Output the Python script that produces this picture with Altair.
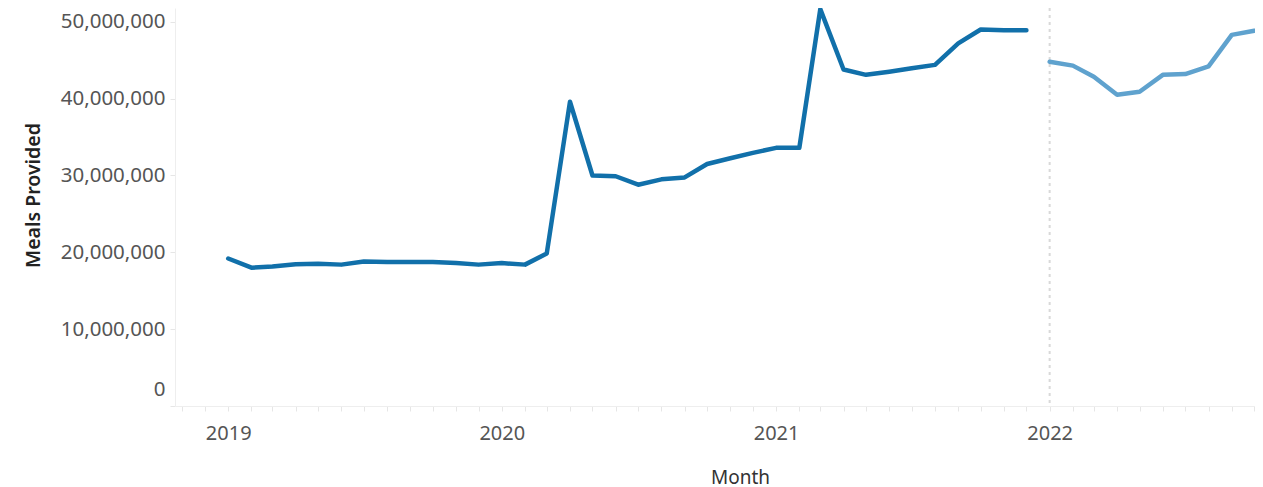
import altair as alt
import pandas as pd

# Monthly meals provided (millions)
months_actual = pd.date_range("2019-01-01", "2021-12-01", freq="MS").strftime("%Y-%m-%d").tolist()
values_actual = [
    19.2, 18.0, 18.15, 18.45, 18.5, 18.4, 18.8, 18.75, 18.75, 18.75, 18.6, 18.4,
    18.6, 18.4, 19.85, 39.6, 30.0, 29.9, 28.8, 29.5, 29.75, 31.5, 32.25, 32.95,
    33.6, 33.6, 51.65, 43.8, 43.1, 43.5, 43.95, 44.4, 47.2, 49.0, 48.9, 48.9,
]
months_2022 = pd.date_range("2022-01-01", "2022-10-01", freq="MS").strftime("%Y-%m-%d").tolist()
values_2022 = [44.8, 44.3, 42.85, 40.5, 40.9, 43.1, 43.2, 44.2, 48.3, 48.85]

series_names = ["Actual", "2022"]
series_colors = ["#1170aa", "#5fa2ce"]
y_ticks = [0, 10_000_000, 20_000_000, 30_000_000, 40_000_000, 50_000_000]
divider_date = ["2022-01-01"]

df = pd.DataFrame({
    "Month": months_actual + months_2022,
    "Meals": [round(v * 1_000_000) for v in values_actual + values_2022],
    "Series": [series_names[0]] * len(months_actual) + [series_names[1]] * len(months_2022),
})
div_df = pd.DataFrame({"Month": divider_date})

FONT = "Noto Sans"

x_scale = alt.Scale(
    type="utc",
    domain=[alt.DateTime(year=2018, month=10, date=22, utc=True),
            alt.DateTime(year=2022, month=10, date=2, utc=True)],
)

x_axis = alt.Axis(
    title="Month",
    tickCount={"interval": "month", "step": 1},
    labelExpr="utcmonth(datum.value) == 0 ? utcFormat(datum.value, '%Y') : ''",
    labelOverlap=False,
    labelFont=FONT, labelFontSize=20, labelColor="#555555",
    labelPadding=12,
    tickSize=5, tickColor="#e6e6e6",
    domainColor="#eeeeee",
    grid=False,
    titleFont=FONT, titleFontSize=19, titleFontWeight="normal", titleColor="#333333",
    titleX=565, titleY=71, titleBaseline="middle", titleAlign="center",
)

y_axis = alt.Axis(
    title="Meals Provided",
    values=y_ticks,
    format=",d",
    labelFont=FONT, labelFontSize=20.5, labelColor="#555555",
    labelPadding=5,
    labelFlush=True, labelFlushOffset=-7,
    tickSize=5, tickColor="#e6e6e6",
    domainColor="#eeeeee",
    grid=False,
    titleFont=FONT, titleFontSize=19.5, titleFontWeight=600, titleColor="#222222",
    titleX=-142, titleY=187, titleAngle=270, titleAlign="center", titleBaseline="middle",
)

divider = alt.Chart(div_df).mark_rule(
    color="#d9d9d9", strokeWidth=2, strokeDash=[3, 4]
).encode(
    x=alt.X("Month:T", scale=x_scale, axis=x_axis),
)

lines = alt.Chart(df).mark_line(strokeWidth=4.5, strokeJoin="round", strokeCap="round").encode(
    x=alt.X("Month:T", scale=x_scale, axis=x_axis),
    y=alt.Y("Meals:Q", scale=alt.Scale(domain=[0, 51_800_000], nice=False, zero=True), axis=y_axis),
    color=alt.Color("Series:N", scale=alt.Scale(domain=series_names, range=series_colors), legend=None),
    detail="Series:N",
)

chart = alt.layer(divider, lines).properties(
    width=1080,
    height=398,
    padding={"left": 167, "top": 0, "right": 0, "bottom": 84},
    autosize=alt.AutoSizeParams(type="none"),
).configure_view(stroke=None)

chart.save("out.html", embed_options={"renderer": "svg", "actions": False})
